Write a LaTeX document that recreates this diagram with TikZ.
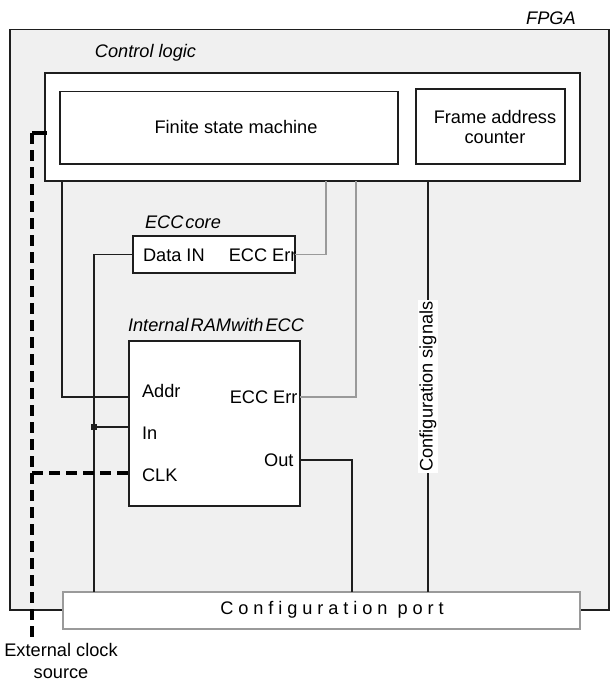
\documentclass[tikz,border=0pt]{standalone}
\usepackage{fontspec}
\setmainfont{Liberation Sans}
\definecolor{fpgabg}{HTML}{F0F0F0}
\definecolor{ink}{HTML}{1E1E1E}
\definecolor{wiregray}{HTML}{9A9A9A}
\begin{document}
\begin{tikzpicture}[x=1pt,y=-1pt,
  font=\fontsize{18.2}{21}\selectfont,
  box/.style={draw=ink, line width=1.8pt, fill=white, inner sep=0pt, outer sep=0pt, anchor=north west},
  wire/.style={draw=ink, line width=1.7pt},
  gwire/.style={draw=wiregray, line width=1.1pt},
  clkline/.style={draw=black, line width=3.2pt, dash pattern=on 11pt off 6pt},
  stub/.style={draw=black, line width=3.2pt},
  lbl/.style={inner sep=0pt, outer sep=0pt},
  ttl/.style={inner sep=0pt, outer sep=0pt, font=\fontsize{18.2}{21}\selectfont\itshape}]
\useasboundingbox (0,0) rectangle (610,681);

% boxes
\node[box, fill=fpgabg, minimum width=599pt, minimum height=580.5pt] (fpga) at (10,29.5) {};
\node[box, minimum width=535pt, minimum height=108pt] (ctrl) at (45,73) {};
\node[box, minimum width=338pt, minimum height=72.5pt] (fsm) at (60,91.5) {};
\node[box, minimum width=149pt, minimum height=75pt] (fac) at (416,89) {};
\node[box, minimum width=162pt, minimum height=37pt] (ecc) at (133,236) {};
\node[box, minimum width=171pt, minimum height=165pt] (ram) at (129,341) {};
\node[box, draw=wiregray, line width=1.5pt, minimum width=517pt, minimum height=37pt] (port) at (63,592) {};

% titles
\node[ttl] (fpgat) at (551,18) {FPGA};
\node[ttl] (ctrlt) at (145.5,53) {Control logic};
\node[ttl] (ecct) at (183,222) {ECC\hspace{2pt}core};
\node[ttl] (ramt) at (216,325) {Internal\hspace{2pt}RAMwith\hspace{2pt}ECC};

% box texts
\node[lbl] (fsmt) at (236,127) {Finite state machine};
\node[lbl, align=center, font=\fontsize{18.2}{20}\selectfont] (fact) at (495,126.5) {Frame address\\counter};
\node[lbl, font=\fontsize{18.2}{21}\selectfont\addfontfeature{LetterSpace=27}] (portt) at (332,610) {Configuration port};

% port labels
\node[lbl, anchor=west] (datain) at (143,255) {Data IN};
\node[lbl, anchor=east] (eccerr1) at (296.5,255) {ECC Err};
\node[lbl, anchor=west] (addr) at (142,391) {Addr};
\node[lbl, anchor=east] (eccerr2) at (297.5,397) {ECC Err};
\node[lbl, anchor=west] (inl) at (142,433) {In};
\node[lbl, anchor=west] (clkl) at (142,475) {CLK};
\node[lbl, anchor=east] (outl) at (293.5,460) {Out};

% junction and clock coordinates
\node[fill=ink, minimum size=5.5pt, inner sep=0pt] (jn) at (94,427) {};
\coordinate (clktop) at (32,133);
\coordinate (clkbot) at (32,638);
\coordinate (addry) at (0,397);
\coordinate (iny) at (0,427);
\coordinate (clky) at (0,473);

% wires
\draw[wire] ([xshift=17pt]ctrl.south west) |- (ram.west |- addry);
\draw[wire] (port.north -| jn) |- (ecc.west);
\draw[wire] (jn.center) -- (ram.west |- iny);
\draw[gwire] (ecc.east) -| ([xshift=281pt]ctrl.south west);
\draw[gwire] (ram.east |- addry) -| ([xshift=311pt]ctrl.south west);
\draw[wire] (ram.east |- outl) -| ([xshift=289pt]port.north west);
\draw[wire] ([xshift=383pt]ctrl.south west) -- node[lbl, rotate=90, fill=white, inner sep=1.5pt] (cfgs) {Configuration signals} ([xshift=365pt]port.north west);

% clock
\draw[stub] (clktop) -- ([xshift=2pt]clktop -| ctrl.west);
\draw[clkline] (clktop) -- (clkbot);
\draw[clkline] (clkbot |- clky) -- (ram.west |- clky);

\node[lbl, align=center, font=\fontsize{18.2}{22}\selectfont] (ext) at (61,661) {External clock\\source};
\end{tikzpicture}
\end{document}
